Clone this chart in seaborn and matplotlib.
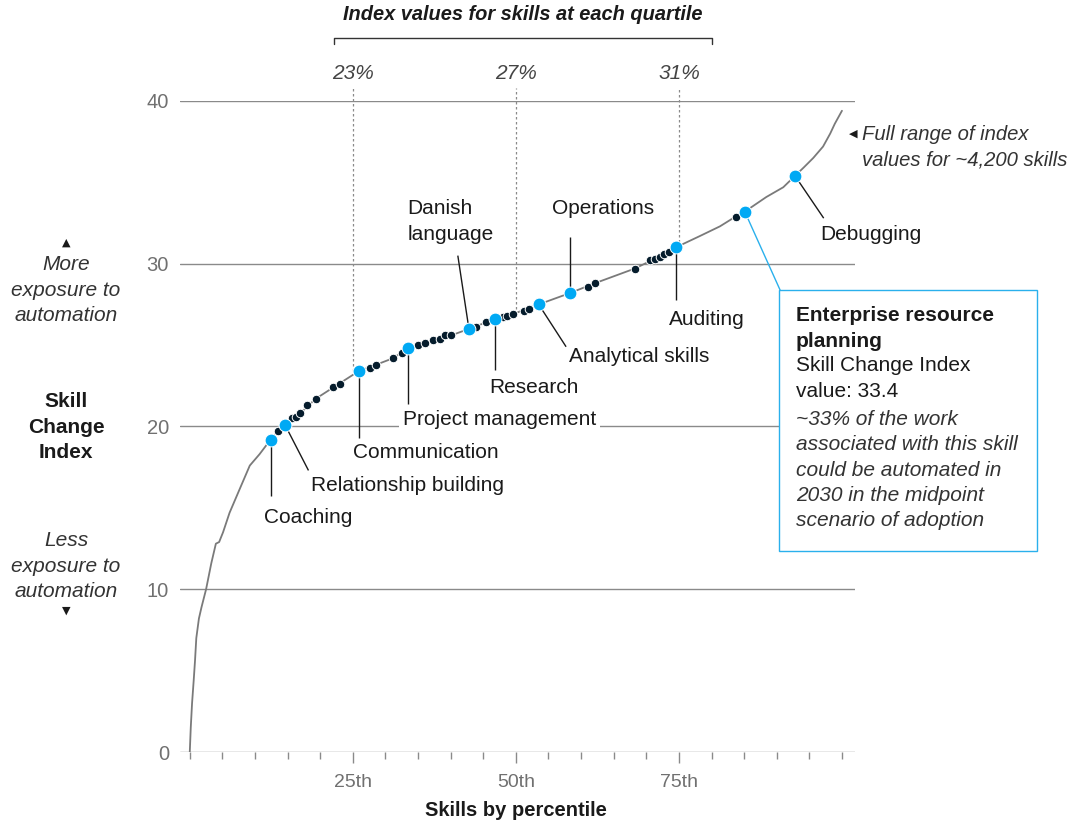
import matplotlib
matplotlib.use("Agg")
import matplotlib.pyplot as plt
import seaborn as sns
import pandas as pd
from matplotlib.lines import Line2D
from matplotlib.patches import Rectangle

# index curve for all skills (percentile, index value)
curve_pct = [0.0, 0.15, 0.35, 0.6, 0.8, 1.0, 1.4, 1.8, 2.5, 3.3, 4.0, 4.5, 5.1, 6.1, 7.7, 9.2,
             10.7, 12.4, 14.6, 16.9, 19.3, 22.0, 25.9, 28.6, 31.2, 33.4, 36.0, 40.1, 42.8, 46.8,
             49.5, 53.5, 58.3, 62.1, 68.2, 71.3, 74.5, 78.2, 81.3, 83.3, 85.1, 88.4, 91.0, 92.8,
             94.1, 95.6, 97.1, 98.2, 98.9, 100.0]
curve_idx = [0.0, 1.5, 3.0, 4.4, 5.6, 7.0, 8.2, 8.9, 10.0, 11.6, 12.8, 12.9, 13.5, 14.7, 16.2,
             17.6, 18.3, 19.2, 20.1, 20.8, 21.7, 22.4, 23.4, 23.8, 24.2, 24.8, 25.1, 25.6, 26.0,
             26.6, 26.9, 27.5, 28.2, 28.8, 29.7, 30.3, 31.0, 31.7, 32.3, 32.8, 33.2, 34.1, 34.7,
             35.4, 35.9, 36.5, 37.2, 38.0, 38.6, 39.4]

# skills called out with a label
skill_names = ["Coaching", "Relationship building", "Communication", "Project management",
               "Danish language", "Research", "Analytical skills", "Operations", "Auditing",
               "Enterprise resource planning", "Debugging"]
skill_pct = [12.4, 14.6, 25.9, 33.4, 42.8, 46.8, 53.5, 58.3, 74.5, 85.1, 92.8]
skill_idx = [19.2, 20.1, 23.4, 24.8, 26.0, 26.6, 27.5, 28.2, 31.0, 33.2, 35.4]

# other skills marked on the curve
other_pct = [13.5, 15.6, 16.3, 16.9, 18.0, 19.3, 22.0, 23.0, 27.6, 28.6, 31.2, 32.6, 35.0, 36.0,
             37.3, 38.3, 39.1, 40.1, 43.9, 45.4, 48.1, 48.7, 49.5, 51.2, 52.0, 61.1, 62.1, 68.2,
             70.6, 71.3, 72.1, 72.7, 73.5, 83.7]
other_idx = [19.7, 20.5, 20.6, 20.8, 21.3, 21.7, 22.4, 22.6, 23.6, 23.8, 24.2, 24.5, 25.0, 25.1,
             25.3, 25.4, 25.6, 25.6, 26.1, 26.4, 26.7, 26.8, 26.9, 27.1, 27.2, 28.6, 28.8, 29.7,
             30.2, 30.3, 30.4, 30.6, 30.7, 32.9]

quartile_pct = [25, 50, 75]
quartile_idx = [23.4, 26.9, 31.0]
quartile_labels = ["23%", "27%", "31%"]

y_ticks = [0, 10, 20, 30, 40]
x_major = [25, 50, 75]
x_major_labels = ["25th", "50th", "75th"]

# label placement: leader line end (x, y), text anchor (x, y), text
label_layout = {
    "Coaching": ((12.4, 15.7), (11.35, 14.4), "Coaching"),
    "Relationship building": ((18.2, 17.3), (18.6, 16.4), "Relationship building"),
    "Communication": ((25.9, 19.3), (25.0, 18.4), "Communication"),
    "Project management": ((33.4, 21.4), (32.7, 20.4), "Project management"),
    "Danish language": ((41.1, 30.5), (33.4, 32.6), "Danish\nlanguage"),
    "Research": ((46.8, 23.5), (45.9, 22.4), "Research"),
    "Analytical skills": ((57.7, 24.9), (58.1, 24.3), "Analytical skills"),
    "Operations": ((58.3, 31.65), (55.5, 33.4), "Operations"),
    "Auditing": ((74.5, 27.8), (73.5, 26.6), "Auditing"),
    "Debugging": ((97.2, 32.8), (96.6, 31.8), "Debugging"),
}

NAVY = "#051c2c"
BLUE = "#00a9f4"
GRID = "#8a8a8a"
TXT = "#1a1a1a"
FS = 15
LS = 1.41

sns.set_theme(style="white")
plt.rcParams["font.family"] = ["Liberation Sans", "DejaVu Sans"]

W, H = 1075, 824
fig = plt.figure(figsize=(W / 100, H / 100), dpi=100)
ax = fig.add_axes([180 / W, 1 - 752 / H, 675 / W, 651 / H])

curve = pd.DataFrame({"pct": curve_pct, "idx": curve_idx})
sns.lineplot(data=curve, x="pct", y="idx", color="#7a7a7a", lw=1.3, ax=ax, zorder=2)

others = pd.DataFrame({"pct": other_pct, "idx": other_idx})
sns.scatterplot(data=others, x="pct", y="idx", color=NAVY, s=38, edgecolor="white",
                linewidth=0.7, ax=ax, zorder=4)

skills = pd.DataFrame({"name": skill_names, "pct": skill_pct, "idx": skill_idx})
sns.scatterplot(data=skills, x="pct", y="idx", color=BLUE, s=85, edgecolor="white",
                linewidth=0.7, ax=ax, zorder=5)

# leader lines and labels
for name, px, py in zip(skill_names, skill_pct, skill_idx):
    if name not in label_layout:
        continue
    (ex, ey), (tx, ty), txt = label_layout[name]
    ax.plot([px, ex], [py, ey], color=TXT, lw=1, zorder=3, solid_capstyle="butt")
    kw = {}
    if name == "Project management":
        kw["bbox"] = dict(facecolor="white", edgecolor="none", pad=3)
    ax.text(tx, ty, txt, fontsize=FS, color=TXT, ha="left", va="center",
            linespacing=LS, zorder=3, **kw)

# quartile guides
ax.vlines(quartile_pct, quartile_idx, 40.8, colors="#8a8a8a", linestyles=(0, (2, 2)),
          lw=0.9, clip_on=False, zorder=1)
for q, lab in zip(quartile_pct, quartile_labels):
    ax.text(q, 41.7, lab, fontsize=FS, style="italic", color="#444444", ha="center",
            va="center", clip_on=False)

# axes styling
ax.set_xlim(-1.5, 102)
ax.set_ylim(0, 40)
ax.set_yticks(y_ticks)
ax.set_xticks(x_major)
ax.set_xticklabels(x_major_labels)
ax.set_xticks(range(0, 101, 5), minor=True)
ax.yaxis.grid(True, color=GRID, lw=1)
ax.xaxis.grid(False)
ax.set_axisbelow(True)
for s in ax.spines.values():
    s.set_visible(False)
ax.tick_params(axis="y", length=0, pad=8, labelsize=14.5, labelcolor="#707070")
ax.tick_params(axis="x", which="both", bottom=True, direction="out", color=GRID, width=1)
ax.tick_params(axis="x", which="major", length=8, pad=8, labelsize=14, labelcolor="#707070")
ax.tick_params(axis="x", which="minor", length=5)
ax.set_xlabel("")
ax.set_ylabel("")

fig.text(516 / W, 1 - 810 / H, "Skills by percentile", fontsize=14.5, fontweight="bold",
         color=TXT, ha="center", va="center")

# title bracket over the quartiles
fig.text(523 / W, 1 - 15 / H, "Index values for skills at each quartile", fontsize=14.4,
         fontweight="bold", style="italic", color=TXT, ha="center", va="center")
fig.add_artist(Line2D([334 / W, 334 / W, 712 / W, 712 / W],
                      [1 - 44 / H, 1 - 38 / H, 1 - 38 / H, 1 - 44 / H], color="#333333", lw=1))

# left-hand y axis captions
cx = 66 / W
tri = dict(family="DejaVu Sans", fontsize=8, color=TXT, ha="center", va="center")
fig.text(cx, 1 - 243 / H, "\u25b2", **tri)
fig.text(cx, 1 - 290 / H, "More\nexposure to\nautomation", fontsize=FS, style="italic",
         color="#333333", ha="center", va="center", linespacing=LS)
fig.text(cx, 1 - 427 / H, "Skill\nChange\nIndex", fontsize=FS, fontweight="bold",
         color=TXT, ha="center", va="center", linespacing=LS)
fig.text(cx, 1 - 566 / H, "Less\nexposure to\nautomation", fontsize=FS, style="italic",
         color="#333333", ha="center", va="center", linespacing=LS)
fig.text(cx, 1 - 611 / H, "\u25bc", **tri)

# note on the curve end
fig.text(853 / W, 1 - 134 / H, "\u25c0", **tri)
fig.text(862 / W, 1 - 147.5 / H, "Full range of index\nvalues for ~4,200 skills", fontsize=14.6,
         style="italic", color="#333333", ha="left", va="center", linespacing=1.45)

# callout box for enterprise resource planning
erp = skills[skills["name"] == "Enterprise resource planning"].iloc[0]
box_l, box_t, box_r, box_b = 779, 290, 1037, 551
corner = ax.transData.inverted().transform(
    fig.transFigure.transform((box_l / W + 0.001, 1 - box_t / H)))
ax.plot([erp["pct"], corner[0]], [erp["idx"], corner[1]], color="#2ab0ec", lw=1,
        zorder=3, clip_on=False)
fig.add_artist(Rectangle((box_l / W, 1 - box_b / H), (box_r - box_l) / W, (box_b - box_t) / H,
                         facecolor="white", edgecolor="#2ab0ec", lw=1, zorder=10))
tx = 796 / W
fig.text(tx, 1 - 328.5 / H, "Enterprise resource\nplanning", fontsize=FS, fontweight="bold",
         color=TXT, ha="left", va="center", linespacing=LS, zorder=11)
fig.text(tx, 1 - 378.5 / H, "Skill Change Index\nvalue: 33.4", fontsize=FS, color=TXT,
         ha="left", va="center", linespacing=LS, zorder=11)
fig.text(tx, 1 - 470 / H, "~33% of the work\nassociated with this skill\ncould be automated in\n"
         "2030 in the midpoint\nscenario of adoption", fontsize=FS, style="italic",
         color="#333333", ha="left", va="center", linespacing=LS, zorder=11)

fig.savefig("out.png", dpi=100)
